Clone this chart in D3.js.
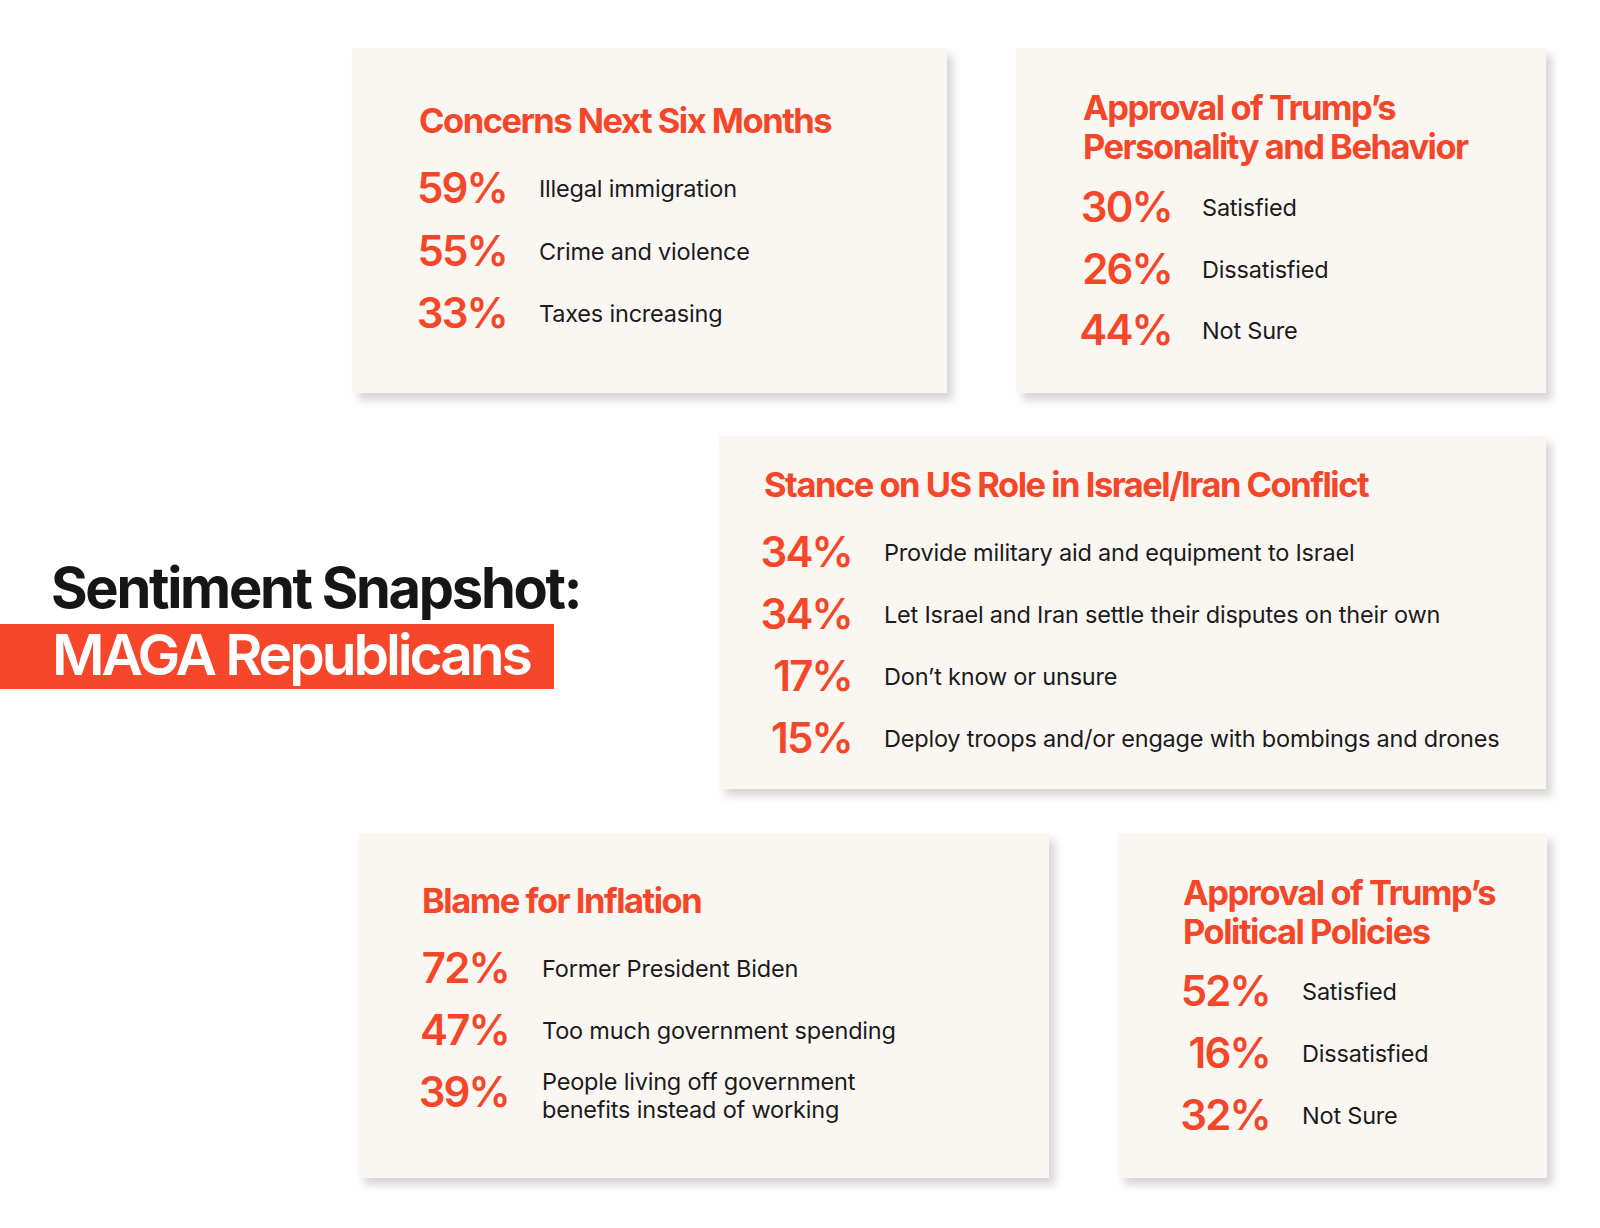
<!DOCTYPE html>
<html>
<head>
<meta charset="utf-8">
<script src="https://cdn.jsdelivr.net/npm/d3@7"></script>
<style>
  html, body { margin: 0; padding: 0; background: #fff; }
  svg { display: block; }
  .title { font-family: Inter, "Noto Sans", sans-serif; font-weight: 700; fill: #F4472A; }
  .pct { font-family: Inter, "Noto Sans", sans-serif; font-weight: 600; fill: #F4472A; }
  .lbl { font-family: Inter, "Noto Sans", sans-serif; font-weight: 400; fill: #1b1b1b; }
</style>
</head>
<body>
<svg id="chart" width="1600" height="1228"></svg>
<script>
// headline
var headLine1 = "Sentiment Snapshot:"
var headLine2 = "MAGA Republicans"

// card 1
var concernsTitle = ["Concerns Next Six Months"]
var concernsLabels = [["Illegal immigration"], ["Crime and violence"], ["Taxes increasing"]]
var concernsValues = [59, 55, 33]

// card 2
var personalityTitle = ["Approval of Trump\u2019s", "Personality and Behavior"]
var personalityLabels = [["Satisfied"], ["Dissatisfied"], ["Not Sure"]]
var personalityValues = [30, 26, 44]

// card 3
var stanceTitle = ["Stance on US Role in Israel/Iran Conflict"]
var stanceLabels = [["Provide military aid and equipment to Israel"],
                    ["Let Israel and Iran settle their disputes on their own"],
                    ["Don\u2019t know or unsure"],
                    ["Deploy troops and/or engage with bombings and drones"]]
var stanceValues = [34, 34, 17, 15]

// card 4
var inflationTitle = ["Blame for Inflation"]
var inflationLabels = [["Former President Biden"], ["Too much government spending"],
                       ["People living off government", "benefits instead of working"]]
var inflationValues = [72, 47, 39]

// card 5
var policiesTitle = ["Approval of Trump\u2019s", "Political Policies"]
var policiesLabels = [["Satisfied"], ["Dissatisfied"], ["Not Sure"]]
var policiesValues = [52, 16, 32]

var CARD_BG = "#FAF7F3"

// layout of each card (box + where title / rows sit)
var cards = [
  {title: concernsTitle, labels: concernsLabels, values: concernsValues,
   x0: 352, x1: 947, y0: 48, y1: 393, tx: 419, ty: 133, r0: 203, r1: 328, pr: 507, lx: 539},
  {title: personalityTitle, labels: personalityLabels, values: personalityValues,
   x0: 1016, x1: 1546, y0: 48, y1: 393, tx: 1083, ty: 120, r0: 222, r1: 345, pr: 1172, lx: 1202},
  {title: stanceTitle, labels: stanceLabels, values: stanceValues,
   x0: 719, x1: 1546, y0: 436, y1: 789, tx: 764, ty: 497, r0: 567, r1: 753, pr: 852, lx: 884},
  {title: inflationTitle, labels: inflationLabels, values: inflationValues,
   x0: 358, x1: 1049, y0: 833, y1: 1178, tx: 422, ty: 913, r0: 983, r1: 1107, pr: 509, lx: 542},
  {title: policiesTitle, labels: policiesLabels, values: policiesValues,
   x0: 1118, x1: 1547, y0: 833, y1: 1178, tx: 1183, ty: 905, r0: 1006, r1: 1130, pr: 1270, lx: 1302}
]

var svg = d3.select("#chart")

var defs = svg.append("defs")
var f = defs.append("filter").attr("id", "cardShadow")
  .attr("x", "-5%").attr("y", "-5%").attr("width", "115%").attr("height", "120%")
f.append("feDropShadow")
  .attr("dx", 6).attr("dy", 7).attr("stdDeviation", 4)
  .attr("flood-color", "#000").attr("flood-opacity", 0.16)

// --- headline on the left
svg.append("text")
  .attr("class", "title")
  .attr("x", 51).attr("y", 608)
  .style("fill", "#161616")
  .style("font-size", "56px")
  .style("letter-spacing", "-2.3px")
  .text(headLine1)

svg.append("rect")
  .attr("x", 0).attr("y", 624)
  .attr("width", 554).attr("height", 65)
  .attr("fill", "#F7472A")

svg.append("text")
  .attr("x", 52).attr("y", 675)
  .style("font-family", "Inter, 'Noto Sans', sans-serif")
  .style("font-weight", 600)
  .style("font-size", "57px")
  .style("letter-spacing", "-3.1px")
  .style("fill", "#fff")
  .text(headLine2)

// --- cards
cards.forEach(function(c) {
  var g = svg.append("g")

  g.append("rect")
    .attr("x", c.x0).attr("y", c.y0)
    .attr("width", c.x1 - c.x0).attr("height", c.y1 - c.y0)
    .attr("fill", CARD_BG)
    .attr("filter", "url(#cardShadow)")

  g.selectAll(".title").data(c.title).enter()
    .append("text")
    .attr("class", "title")
    .attr("x", c.tx)
    .attr("y", function(d, i) { return c.ty + i * 39 })
    .style("font-size", "34.5px")
    .style("letter-spacing", "-1.5px")
    .text(function(d) { return d })

  var y = d3.scalePoint()
    .domain(d3.range(c.values.length))
    .range([c.r0, c.r1])

  var rows = g.selectAll(".row").data(c.values).enter()
    .append("g").attr("class", "row")

  rows.append("text")
    .attr("class", "pct")
    .attr("x", c.pr)
    .attr("y", function(d, i) { return y(i) })
    .attr("text-anchor", "end")
    .style("font-size", "42px")
    .style("letter-spacing", "-1.8px")
    .text(function(d) { return d + "%" })

  rows.each(function(d, i) {
    var lines = c.labels[i]
    var lh = 27.5
    var first = y(i) - 6 - (lines.length - 1) * lh / 2 + (lines.length > 1 ? 3 : 0)
    d3.select(this).selectAll(".lbl").data(lines).enter()
      .append("text")
      .attr("class", "lbl")
      .attr("x", c.lx)
      .attr("y", function(t, k) { return first + k * lh })
      .style("font-size", "23.5px")
      .style("letter-spacing", "-0.2px")
      .text(function(t) { return t })
  })
})
</script>
</body>
</html>
